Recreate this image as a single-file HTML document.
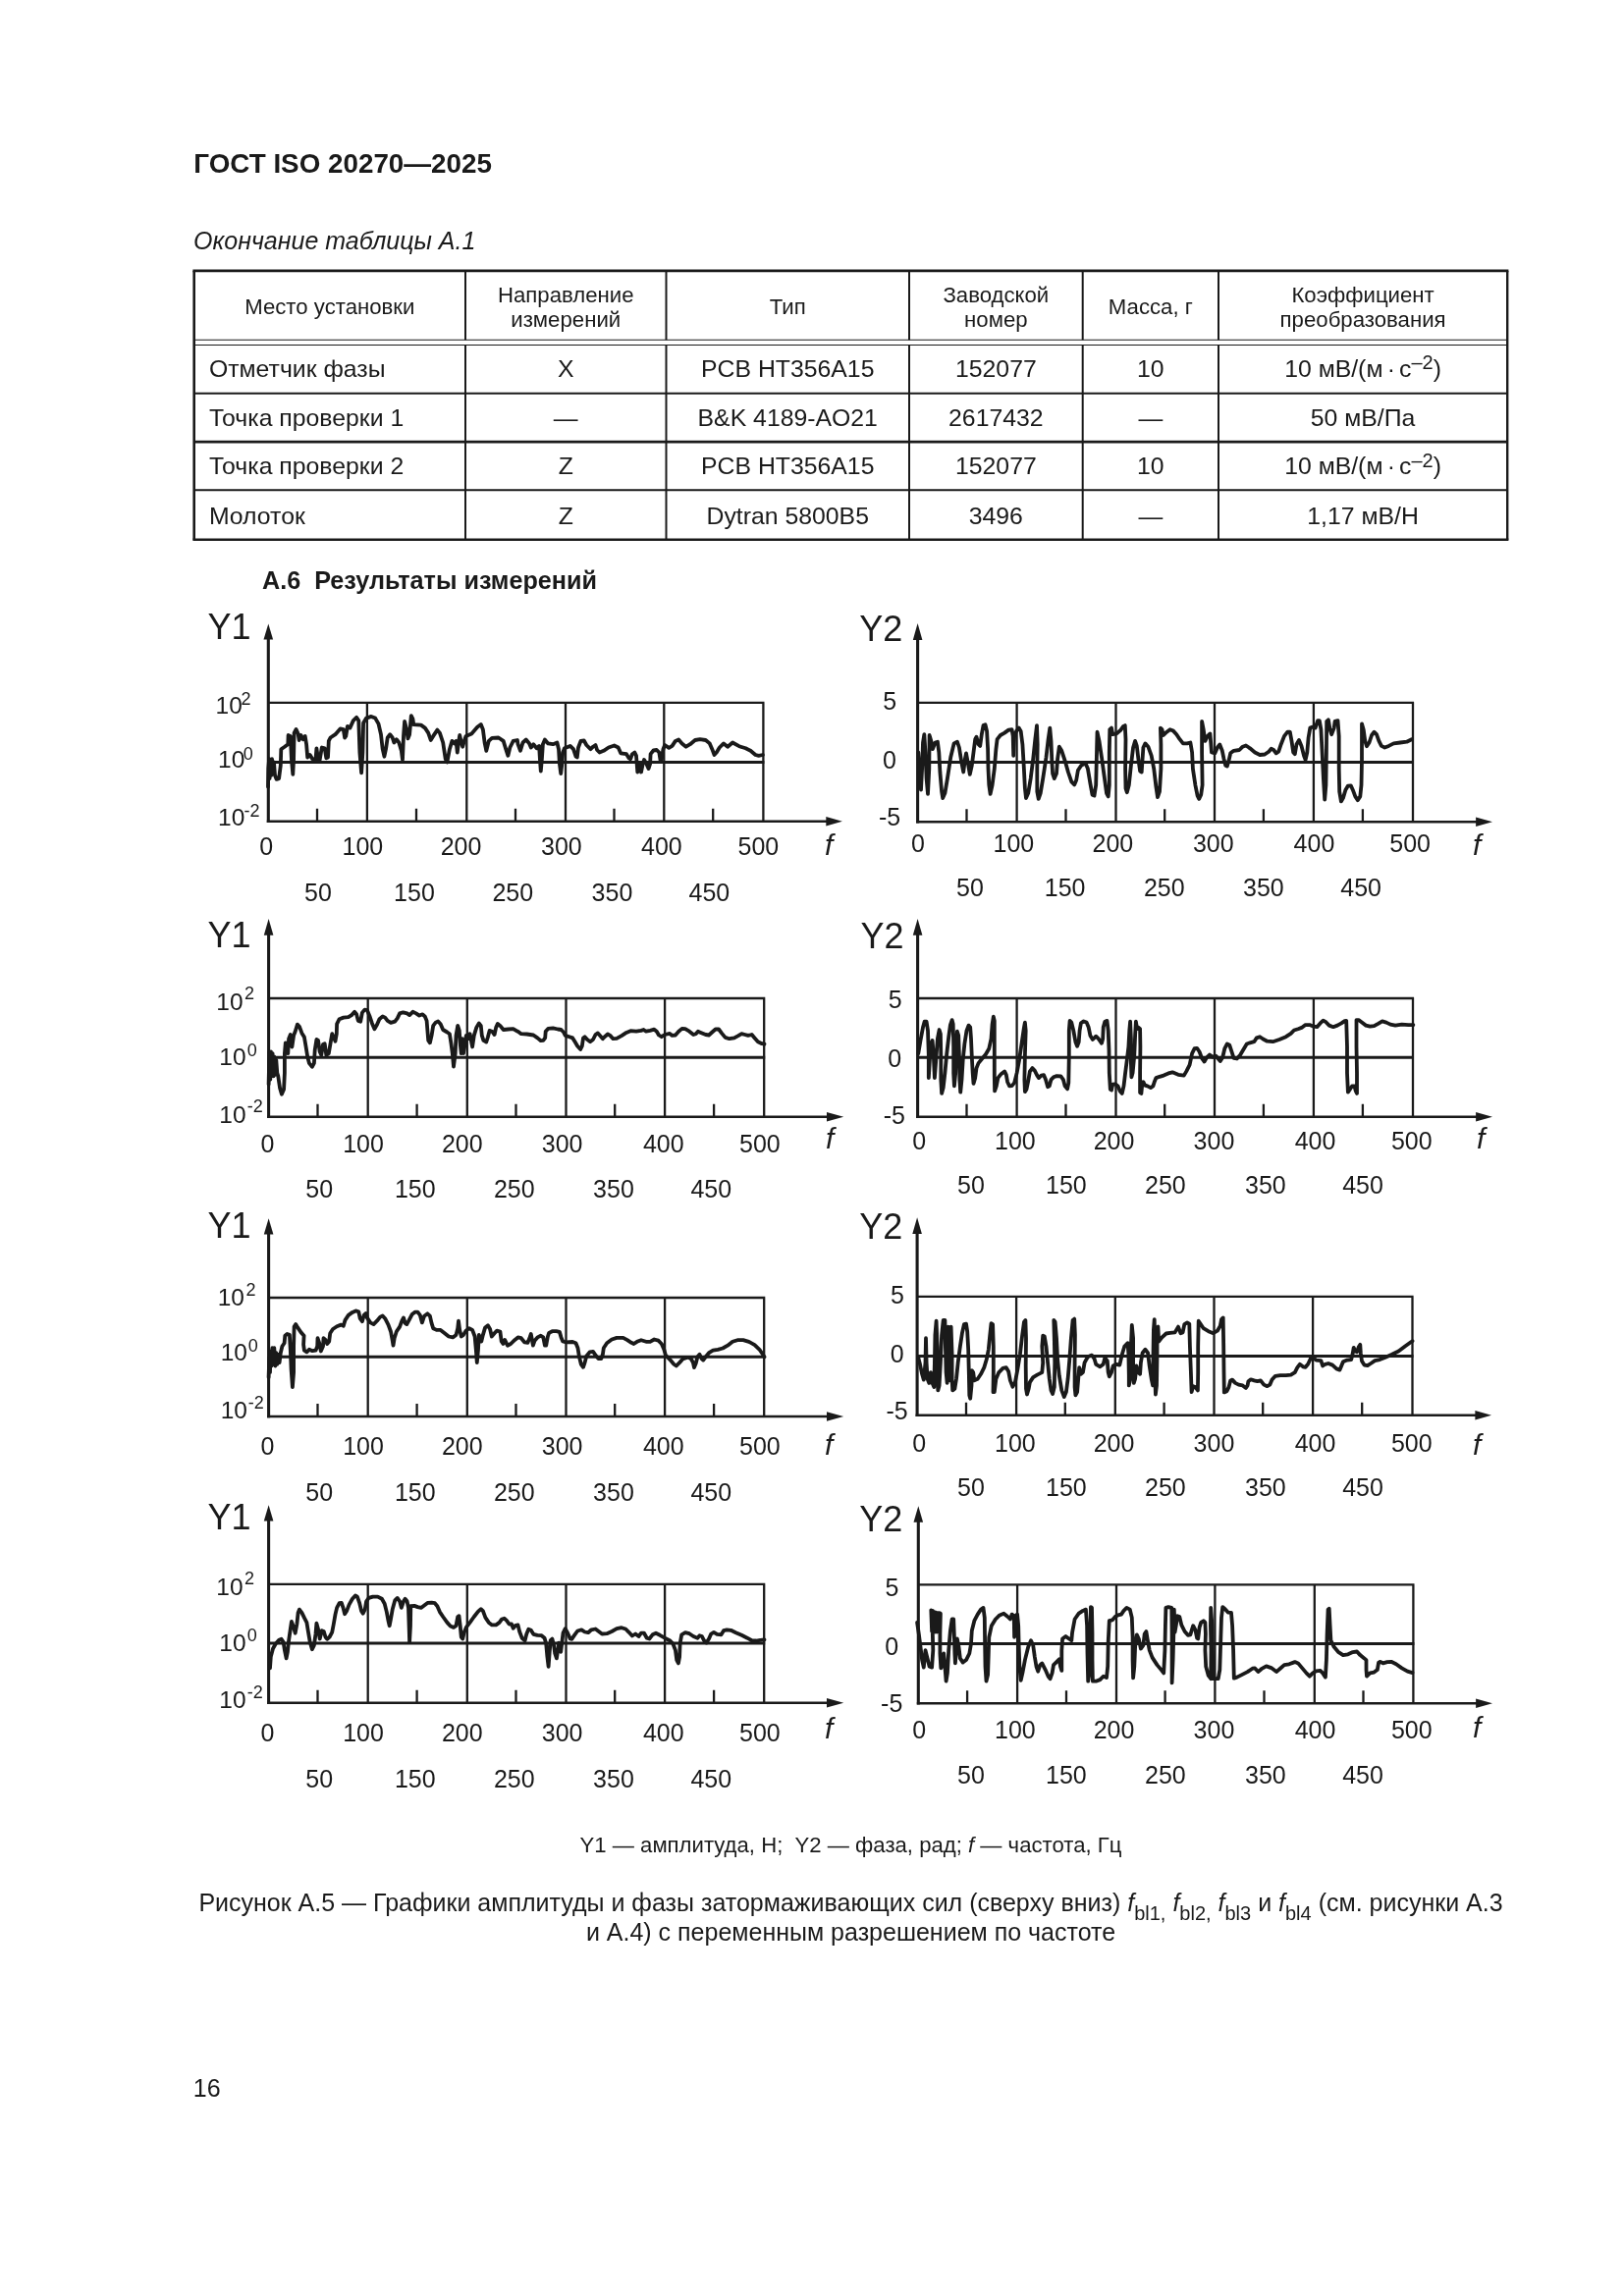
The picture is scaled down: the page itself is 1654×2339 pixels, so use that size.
<!DOCTYPE html>
<html lang="ru">
<head>
<meta charset="utf-8">
<title>ГОСТ ISO 20270—2025</title>
<style>
html,body{margin:0;padding:0;background:#fff;}
body{width:1654px;height:2339px;position:relative;overflow:hidden;font-family:"Liberation Sans",sans-serif;color:#1c1a1a;}
#sheet{position:absolute;left:0;top:0;width:1654px;height:2339px;background:#fff;will-change:transform;filter:grayscale(1);}
.abs{position:absolute;white-space:nowrap;line-height:1;}
#hdr{left:197.3px;top:153.2px;font-size:27.8px;font-weight:bold;}
#cont{left:197px;top:232.7px;font-size:25px;font-style:italic;}
#sec{left:267px;top:579px;font-size:25.2px;font-weight:bold;white-space:pre;}
#legend{left:197px;width:1339px;text-align:center;top:1868.6px;font-size:22.15px;white-space:pre;}
#cap{left:97px;width:1539px;text-align:center;top:1923px;font-size:25px;line-height:30.3px;white-space:nowrap;}
#cap sub{font-size:20px;vertical-align:baseline;position:relative;top:9.3px;font-style:normal;line-height:0;}
#pg{left:196.8px;top:2114.8px;font-size:25px;}
.c{position:absolute;text-align:center;white-space:nowrap;line-height:1;font-size:24.8px;}
.h{font-size:22.2px;line-height:24.5px;}
.l{text-align:left;}
sup{font-size:20px;vertical-align:baseline;position:relative;top:-7.8px;line-height:0;}
.ws{word-spacing:-2.7px;}
</style>
</head>
<body>
<div id="sheet">
<div class="abs" id="hdr">ГОСТ ISO 20270—2025</div>
<div class="abs" id="cont">Окончание таблицы А.1</div>
<svg width="1654" height="300" viewBox="0 270 1654 300" style="position:absolute;left:0;top:270px"><g fill="none" stroke="#1c1a1a"><path d="M196.4 275.9H1536.4M196.4 549.8H1536.4" stroke-width="2.6"/><path d="M197.7 275.9V549.8" stroke-width="2.6"/><path d="M1535.2 275.9V549.8" stroke-width="2.4"/><path d="M474.0 275.9V346.3M474.0 351.5V549.8M678.5 275.9V346.3M678.5 351.5V549.8M926.0 275.9V346.3M926.0 351.5V549.8M1102.7 275.9V346.3M1102.7 351.5V549.8M1241.0 275.9V346.3M1241.0 351.5V549.8" stroke-width="2"/><path d="M197.7 346.3H1535.2M197.7 351.5H1535.2" stroke-width="1.1"/><path d="M197.7 400.8H1535.2M197.7 499.2H1535.2" stroke-width="1.9"/><path d="M197.7 450.1H1535.2" stroke-width="2.8"/></g></svg>
<div class="c h" style="left:197.7px;width:276.3px;top:300.8px">Место установки</div>
<div class="c h" style="left:474.0px;width:204.5px;top:289.0px">Направление<br>измерений</div>
<div class="c h" style="left:678.5px;width:247.5px;top:300.8px">Тип</div>
<div class="c h" style="left:926.0px;width:176.7px;top:289.0px">Заводской<br>номер</div>
<div class="c h" style="left:1102.7px;width:138.3px;top:300.8px">Масса, г</div>
<div class="c h" style="left:1241.0px;width:294.2px;top:289.0px">Коэффициент<br>преобразования</div>
<div class="c l" style="left:212.9px;top:363.5px">Отметчик фазы</div>
<div class="c " style="left:474.0px;width:204.5px;top:363.5px">X</div>
<div class="c " style="left:678.5px;width:247.5px;top:363.5px">PCB HT356A15</div>
<div class="c " style="left:926.0px;width:176.7px;top:363.5px">152077</div>
<div class="c " style="left:1102.7px;width:138.3px;top:363.5px">10</div>
<div class="c " style="left:1241.0px;width:294.2px;top:363.5px">10 мВ/(м<span class="ws"> · </span>с<sup>–2</sup>)</div>
<div class="c l" style="left:212.9px;top:413.5px">Точка проверки 1</div>
<div class="c " style="left:474.0px;width:204.5px;top:413.5px">—</div>
<div class="c " style="left:678.5px;width:247.5px;top:413.5px">B&amp;K 4189-AO21</div>
<div class="c " style="left:926.0px;width:176.7px;top:413.5px">2617432</div>
<div class="c " style="left:1102.7px;width:138.3px;top:413.5px">—</div>
<div class="c " style="left:1241.0px;width:294.2px;top:413.5px">50 мВ/Па</div>
<div class="c l" style="left:212.9px;top:463.4px">Точка проверки 2</div>
<div class="c " style="left:474.0px;width:204.5px;top:463.4px">Z</div>
<div class="c " style="left:678.5px;width:247.5px;top:463.4px">PCB HT356A15</div>
<div class="c " style="left:926.0px;width:176.7px;top:463.4px">152077</div>
<div class="c " style="left:1102.7px;width:138.3px;top:463.4px">10</div>
<div class="c " style="left:1241.0px;width:294.2px;top:463.4px">10 мВ/(м<span class="ws"> · </span>с<sup>–2</sup>)</div>
<div class="c l" style="left:212.9px;top:513.7px">Молоток</div>
<div class="c " style="left:474.0px;width:204.5px;top:513.7px">Z</div>
<div class="c " style="left:678.5px;width:247.5px;top:513.7px">Dytran 5800B5</div>
<div class="c " style="left:926.0px;width:176.7px;top:513.7px">3496</div>
<div class="c " style="left:1102.7px;width:138.3px;top:513.7px">—</div>
<div class="c " style="left:1241.0px;width:294.2px;top:513.7px">1,17 мВ/Н</div>
<div class="abs" id="sec">А.6  Результаты измерений</div>
<svg width="1654" height="1400" viewBox="0 600 1654 1400" style="position:absolute;left:0;top:600px"><g fill="none" stroke="#1c1a1a"><path d="M273.3 715.8H778.5M777.4 715.8V836.7M373.9 715.8V836.7M475.3 715.8V836.7M576.0 715.8V836.7M676.3 715.8V836.7M323.0 823.7V836.7M424.0 823.7V836.7M525.0 823.7V836.7M625.5 823.7V836.7M726.2 823.7V836.7" stroke-width="2.3"/>
<path d="M273.3 776.5H778.4" stroke-width="3"/>
<path d="M273.3 650.4V838.0" stroke-width="3.1"/>
<path d="M271.8 836.7H843.3" stroke-width="2.6"/>
<path d="M273.3 635.4L268.5 651.4L278.1 651.4Z" fill="#1c1a1a" stroke="none"/>
<path d="M857.9 836.7L841.3 831.9L841.3 841.5Z" fill="#1c1a1a" stroke="none"/>
<path d="M273.0 801.4 L273.3 783.1 L274.1 773.2 L274.6 793.1 L275.3 774.8 L276.3 789.8 L277.0 773.2 L278.0 786.5 L279.0 776.5 L280.0 789.8 L281.6 793.9 L284.1 793.1 L285.8 779.8 L286.3 763.2 L289.9 760.7 L293.3 758.2 L293.6 749.0 L295.8 749.9 L296.9 773.2 L298.3 788.9 L299.1 773.2 L299.6 746.6 L301.6 742.9 L303.6 747.4 L304.6 754.0 L306.6 749.0 L308.6 753.2 L310.7 749.9 L312.1 758.2 L313.2 771.5 L315.7 769.0 L318.2 773.2 L321.5 774.0 L322.4 762.3 L324.0 773.2 L325.7 774.0 L327.8 761.5 L330.7 762.3 L332.3 772.3 L334.0 771.5 L334.8 754.9 L336.5 751.5 L341.5 748.2 L346.5 742.4 L349.8 743.2 L351.1 751.5 L352.3 749.9 L353.9 739.9 L356.4 741.6 L359.8 734.1 L363.1 730.8 L365.3 734.1 L366.4 766.5 L368.1 787.3 L369.4 766.5 L370.1 736.6 L373.1 731.6 L378.1 729.9 L382.2 731.6 L385.5 737.4 L388.0 748.2 L389.7 763.2 L391.4 770.7 L393.0 763.2 L394.7 751.5 L397.2 748.2 L399.7 751.5 L401.3 756.5 L403.8 753.2 L406.3 756.5 L408.8 764.8 L410.0 774.0 L411.0 749.9 L412.1 734.9 L413.8 741.6 L415.5 752.4 L417.1 748.2 L418.8 729.1 L420.4 732.4 L421.3 738.2 L428.8 738.6 L432.9 741.6 L436.2 746.6 L438.7 754.0 L441.2 749.9 L445.4 743.6 L447.9 746.6 L451.2 756.5 L453.7 773.2 L455.4 776.5 L457.9 763.2 L460.4 754.9 L462.8 757.4 L464.5 754.9 L465.8 766.5 L467.0 756.5 L468.2 749.0 L469.8 756.5 L471.2 760.7 L472.8 754.9 L474.5 749.9 L480.3 747.4 L486.1 740.7 L489.8 737.9 L491.9 743.2 L493.6 756.5 L495.3 764.8 L497.8 754.9 L501.1 751.9 L507.7 751.5 L512.7 754.9 L515.2 763.2 L517.4 769.8 L519.4 761.5 L522.7 754.9 L526.9 754.0 L527.5 758.2 L530.0 764.8 L532.5 756.5 L535.8 753.5 L539.1 757.4 L540.8 761.5 L543.3 758.2 L546.6 762.3 L549.1 759.9 L549.9 773.2 L550.8 785.6 L551.9 773.2 L552.9 758.2 L554.9 753.5 L558.2 757.4 L563.2 758.2 L567.4 756.5 L569.0 763.2 L569.9 778.1 L571.2 788.1 L572.4 778.1 L573.2 766.5 L574.9 762.3 L580.7 759.9 L584.0 763.2 L586.5 770.7 L587.8 771.5 L589.0 761.5 L591.5 754.9 L594.8 754.5 L597.3 759.0 L601.5 763.2 L604.0 760.7 L606.5 759.0 L608.1 764.0 L610.6 766.5 L614.8 764.8 L619.8 761.5 L625.6 759.5 L629.7 761.5 L632.2 767.3 L638.0 768.2 L640.5 772.3 L642.2 773.2 L643.9 768.2 L646.4 766.5 L648.0 769.8 L649.3 786.5 L651.3 778.1 L653.0 786.5 L654.7 778.1 L656.0 774.0 L658.0 777.3 L660.5 783.1 L662.1 778.1 L662.6 768.2 L665.5 764.5 L668.8 764.0 L671.3 766.5 L672.6 774.8 L673.8 773.2 L675.4 763.2 L677.1 759.0 L681.3 761.8 L684.6 759.9 L687.9 754.9 L691.2 753.5 L694.6 757.4 L698.7 760.7 L702.9 758.2 L707.9 754.0 L712.9 753.2 L718.7 754.0 L722.8 757.4 L725.3 763.2 L727.5 769.0 L729.8 766.5 L732.8 761.5 L737.0 757.4 L741.1 760.7 L746.1 756.5 L752.8 760.2 L759.4 762.3 L764.4 764.8 L769.4 769.0 L772.7 769.8 L776.9 769.0" stroke-width="3.8" stroke-linejoin="round" stroke-linecap="round"/>
<path d="M934.6 715.8H1440.1M1439.0 715.8V837.2M1035.6 715.8V837.2M1136.5 715.8V837.2M1237.0 715.8V837.2M1337.9 715.8V837.2M984.5 824.2V837.2M1085.5 824.2V837.2M1186.2 824.2V837.2M1286.9 824.2V837.2M1387.9 824.2V837.2" stroke-width="2.3"/>
<path d="M934.6 776.5H1440.0" stroke-width="3"/>
<path d="M934.6 650.9V838.5" stroke-width="3.1"/>
<path d="M933.1 837.2H1505.1" stroke-width="2.6"/>
<path d="M934.6 635.0L929.8 651.9L939.4 651.9Z" fill="#1c1a1a" stroke="none"/>
<path d="M1520.0 837.2L1503.1 832.4L1503.1 842.0Z" fill="#1c1a1a" stroke="none"/>
<path d="M935.3 766.5 L936.6 786.5 L938.0 804.7 L939.1 783.1 L940.0 756.5 L941.3 748.2 L942.5 766.5 L943.6 793.1 L945.0 808.9 L946.3 783.1 L946.6 749.0 L948.3 754.9 L949.9 763.2 L952.4 756.5 L954.9 755.7 L956.3 766.5 L957.4 786.5 L959.1 806.4 L960.2 813.1 L962.4 808.1 L964.9 793.1 L968.2 771.5 L971.6 757.4 L974.9 755.7 L976.9 761.5 L979.0 774.8 L981.2 786.5 L982.9 773.2 L984.0 767.3 L985.7 776.5 L987.8 788.9 L989.8 779.8 L991.5 766.5 L993.2 753.2 L994.5 750.7 L996.5 758.2 L998.2 759.9 L999.8 748.2 L1001.5 739.1 L1003.5 738.2 L1005.1 744.9 L1006.1 763.2 L1006.5 783.1 L1007.3 799.8 L1008.6 808.9 L1010.6 799.8 L1012.8 783.1 L1014.4 763.2 L1015.6 753.2 L1018.9 749.0 L1023.1 746.6 L1027.2 743.6 L1030.6 743.2 L1031.7 749.9 L1032.2 769.8 L1033.1 749.9 L1035.1 744.9 L1037.7 741.6 L1039.7 744.9 L1041.4 758.2 L1042.7 779.8 L1043.9 803.1 L1045.0 813.1 L1047.2 808.1 L1049.7 793.1 L1052.2 773.2 L1054.3 753.2 L1056.0 739.1 L1056.7 758.2 L1056.3 783.1 L1056.3 806.4 L1057.7 813.9 L1059.7 808.1 L1062.2 793.1 L1065.5 771.5 L1067.6 753.2 L1069.3 741.6 L1070.5 754.9 L1071.3 774.8 L1072.1 788.1 L1073.8 793.1 L1076.0 788.1 L1077.1 773.2 L1078.8 760.7 L1081.3 764.8 L1084.6 774.8 L1087.9 786.5 L1091.3 796.4 L1094.2 799.4 L1096.2 794.8 L1097.9 784.8 L1101.2 779.8 L1105.4 777.3 L1107.9 783.1 L1110.4 798.1 L1112.5 809.7 L1114.5 810.6 L1116.2 799.8 L1117.0 766.5 L1117.5 745.7 L1119.5 754.9 L1122.0 771.5 L1124.5 789.8 L1127.0 808.1 L1128.7 811.4 L1129.8 799.8 L1129.8 766.5 L1130.3 743.2 L1132.0 741.6 L1133.2 748.2 L1137.0 747.4 L1141.1 744.1 L1144.1 739.9 L1145.8 739.1 L1146.5 753.2 L1146.1 783.1 L1146.5 803.1 L1147.8 807.2 L1149.8 799.8 L1151.9 779.8 L1154.1 761.5 L1156.1 754.9 L1157.8 759.9 L1159.4 773.2 L1161.1 785.6 L1162.7 786.5 L1163.6 773.2 L1164.4 761.5 L1166.4 757.4 L1169.4 760.7 L1172.7 769.8 L1175.2 783.1 L1177.4 801.4 L1179.0 812.2 L1181.0 806.4 L1182.4 783.1 L1182.4 758.2 L1181.9 741.6 L1183.5 743.2 L1184.7 749.0 L1188.3 745.7 L1191.6 743.2 L1195.0 744.6 L1198.3 748.2 L1201.6 753.2 L1204.9 757.4 L1209.1 757.4 L1212.4 756.5 L1214.1 766.5 L1214.9 783.1 L1217.4 799.8 L1219.6 810.6 L1221.2 813.9 L1223.2 809.7 L1224.6 799.8 L1224.1 766.5 L1224.1 734.9 L1225.7 743.2 L1227.4 754.9 L1229.9 749.9 L1232.4 747.4 L1233.2 756.5 L1234.0 766.5 L1237.4 767.3 L1239.9 761.5 L1242.3 758.5 L1244.8 764.8 L1246.5 773.2 L1248.2 779.8 L1249.8 780.6 L1251.5 774.8 L1253.2 767.3 L1256.5 764.8 L1262.3 764.0 L1265.6 760.7 L1268.9 759.5 L1273.1 762.3 L1278.1 766.5 L1283.1 769.0 L1288.1 768.5 L1292.2 765.7 L1294.7 762.8 L1297.2 764.0 L1299.7 767.3 L1302.2 765.7 L1304.7 758.2 L1308.0 749.9 L1311.3 745.7 L1313.8 745.7 L1315.5 754.9 L1317.2 766.5 L1318.8 768.2 L1320.5 758.2 L1323.0 754.0 L1325.5 759.9 L1328.0 769.8 L1329.6 774.0 L1331.3 766.5 L1332.6 751.5 L1334.3 741.6 L1336.3 740.7 L1339.6 741.6 L1342.1 734.1 L1343.8 734.1 L1345.4 743.2 L1346.6 766.5 L1347.9 793.1 L1349.2 814.7 L1350.4 799.8 L1350.9 766.5 L1351.2 734.9 L1352.9 733.3 L1354.6 743.2 L1356.2 748.2 L1358.7 741.6 L1359.6 734.9 L1362.5 734.1 L1363.7 749.9 L1363.7 783.1 L1364.2 806.4 L1365.9 816.4 L1367.9 813.1 L1370.4 804.7 L1372.9 800.6 L1375.8 800.3 L1377.8 804.7 L1380.3 811.4 L1382.8 815.2 L1385.3 811.4 L1386.5 799.8 L1387.0 774.8 L1387.0 749.9 L1387.0 737.4 L1388.7 743.2 L1390.3 754.9 L1392.0 760.2 L1394.5 756.5 L1397.0 749.0 L1399.5 745.7 L1402.0 748.2 L1404.4 754.9 L1406.9 759.9 L1410.3 761.5 L1414.4 759.9 L1419.4 757.4 L1426.1 756.5 L1432.7 755.7 L1437.7 753.2" stroke-width="3.8" stroke-linejoin="round" stroke-linecap="round"/>
<path d="M273.6 1017.0H779.3M778.2 1017.0V1137.7M374.7 1017.0V1137.7M475.8 1017.0V1137.7M576.5 1017.0V1137.7M677.1 1017.0V1137.7M323.5 1124.7V1137.7M424.6 1124.7V1137.7M525.5 1124.7V1137.7M626.2 1124.7V1137.7M727.1 1124.7V1137.7" stroke-width="2.3"/>
<path d="M273.6 1077.3H779.2" stroke-width="3"/>
<path d="M273.6 951.8V1139.0" stroke-width="3.1"/>
<path d="M272.1 1137.7H844.0" stroke-width="2.6"/>
<path d="M273.6 935.9L268.8 952.8L278.4 952.8Z" fill="#1c1a1a" stroke="none"/>
<path d="M859.2 1137.7L842.0 1132.9L842.0 1142.5Z" fill="#1c1a1a" stroke="none"/>
<path d="M273.6 1104.7 L274.1 1083.1 L274.6 1071.5 L275.3 1099.8 L276.0 1071.5 L277.0 1093.1 L277.6 1073.2 L278.6 1096.4 L279.3 1076.5 L280.3 1094.8 L281.3 1079.8 L282.3 1093.1 L283.3 1096.4 L285.0 1108.1 L286.9 1114.7 L289.1 1109.7 L289.9 1093.1 L289.9 1073.2 L290.8 1062.3 L292.4 1066.5 L293.3 1073.2 L294.1 1058.2 L295.8 1054.0 L297.4 1066.5 L299.1 1054.9 L300.7 1050.7 L302.9 1043.6 L304.9 1045.7 L307.4 1052.4 L309.9 1056.5 L311.6 1066.5 L313.2 1076.5 L314.9 1083.1 L317.9 1086.8 L319.9 1083.1 L320.7 1069.8 L322.4 1059.0 L324.0 1059.9 L325.7 1071.5 L327.3 1074.8 L329.0 1064.0 L330.7 1063.2 L332.3 1074.8 L334.8 1073.2 L336.5 1063.2 L338.2 1053.2 L339.8 1056.5 L341.5 1060.7 L342.8 1053.2 L343.1 1043.2 L345.6 1038.2 L349.8 1036.6 L354.8 1036.2 L358.1 1034.1 L361.1 1030.8 L363.1 1033.3 L364.8 1039.9 L367.2 1040.7 L368.9 1031.6 L371.4 1028.6 L373.9 1029.1 L376.4 1034.9 L378.9 1042.4 L381.4 1048.2 L383.9 1044.1 L386.4 1038.2 L389.7 1035.4 L392.2 1036.6 L394.7 1039.9 L398.0 1041.9 L402.2 1040.7 L404.7 1037.4 L407.1 1032.4 L410.5 1031.3 L414.6 1032.4 L417.1 1034.1 L420.4 1030.8 L423.8 1032.4 L427.1 1034.6 L430.4 1033.3 L432.9 1035.7 L434.6 1039.9 L435.4 1049.9 L436.2 1059.9 L437.9 1062.3 L439.6 1054.9 L441.2 1044.9 L443.7 1041.6 L446.2 1040.4 L448.7 1043.2 L451.2 1049.0 L455.4 1051.5 L457.9 1053.2 L459.5 1063.2 L460.8 1073.2 L462.0 1086.5 L463.7 1073.2 L464.5 1054.9 L466.2 1044.9 L467.8 1049.9 L468.7 1063.2 L469.8 1073.2 L470.8 1058.2 L472.0 1073.2 L473.7 1063.2 L474.8 1054.9 L477.0 1058.2 L478.6 1053.2 L479.8 1059.9 L481.1 1066.5 L482.8 1054.9 L485.3 1046.6 L487.8 1042.4 L489.8 1044.9 L490.8 1054.9 L492.4 1059.9 L495.3 1061.5 L496.9 1056.5 L498.6 1049.9 L501.1 1050.7 L503.6 1054.0 L505.2 1046.6 L506.9 1042.9 L509.4 1044.9 L512.7 1049.0 L517.7 1048.5 L522.7 1048.2 L526.9 1050.7 L527.5 1050.7 L530.8 1053.2 L536.6 1053.5 L543.3 1054.5 L547.4 1057.4 L550.8 1060.2 L553.3 1059.9 L555.2 1057.4 L555.7 1050.7 L558.2 1047.9 L563.2 1047.4 L568.2 1048.5 L571.5 1049.0 L574.0 1051.5 L575.7 1054.9 L579.9 1056.2 L583.2 1057.4 L585.7 1061.5 L588.2 1065.7 L591.2 1069.0 L592.8 1065.7 L594.0 1057.4 L595.6 1056.2 L598.1 1059.0 L601.1 1061.2 L604.0 1059.0 L606.5 1054.0 L608.9 1052.4 L611.1 1054.9 L613.9 1058.2 L616.4 1055.7 L618.9 1053.5 L621.4 1054.9 L624.4 1058.2 L628.1 1057.9 L633.1 1055.2 L638.0 1051.9 L642.2 1050.2 L648.0 1050.7 L653.0 1049.9 L655.5 1049.0 L658.0 1050.7 L662.1 1049.9 L666.3 1048.7 L668.8 1050.7 L671.0 1054.5 L673.8 1056.2 L677.1 1054.0 L682.1 1052.9 L684.6 1054.9 L687.9 1054.5 L691.2 1050.7 L694.6 1047.9 L697.9 1048.2 L702.1 1050.7 L706.2 1054.0 L708.7 1053.2 L710.9 1050.7 L713.7 1051.9 L718.7 1054.0 L722.0 1054.5 L725.3 1051.5 L728.7 1048.5 L732.0 1048.5 L735.3 1052.9 L738.6 1056.9 L742.8 1058.2 L747.8 1057.4 L751.9 1055.2 L755.3 1053.2 L758.6 1054.0 L761.9 1054.9 L765.7 1054.0 L768.6 1057.4 L771.9 1061.2 L776.0 1063.2 L778.5 1063.7" stroke-width="3.8" stroke-linejoin="round" stroke-linecap="round"/>
<path d="M934.6 1017.0H1440.1M1439.0 1017.0V1137.7M1035.6 1017.0V1137.7M1136.5 1017.0V1137.7M1237.0 1017.0V1137.7M1337.9 1017.0V1137.7M984.5 1124.7V1137.7M1085.5 1124.7V1137.7M1186.2 1124.7V1137.7M1286.9 1124.7V1137.7M1387.9 1124.7V1137.7" stroke-width="2.3"/>
<path d="M934.6 1077.3H1440.0" stroke-width="3"/>
<path d="M934.6 951.8V1139.0" stroke-width="3.1"/>
<path d="M933.1 1137.7H1505.1" stroke-width="2.6"/>
<path d="M934.6 935.9L929.8 952.8L939.4 952.8Z" fill="#1c1a1a" stroke="none"/>
<path d="M1520.0 1137.7L1503.1 1132.9L1503.1 1142.5Z" fill="#1c1a1a" stroke="none"/>
<path d="M935.3 1073.2 L937.5 1059.9 L940.0 1046.6 L941.6 1040.7 L943.6 1040.7 L945.0 1049.9 L945.8 1074.8 L945.8 1098.1 L946.9 1079.8 L948.3 1063.2 L949.6 1059.9 L950.8 1074.8 L951.9 1098.1 L953.3 1079.8 L954.9 1058.2 L956.6 1049.0 L957.9 1053.2 L958.3 1074.8 L958.3 1099.8 L959.1 1113.9 L960.7 1108.1 L962.4 1093.1 L964.1 1074.8 L966.2 1056.5 L967.9 1044.1 L969.6 1039.1 L970.7 1043.2 L971.2 1066.5 L971.2 1093.1 L971.9 1106.4 L973.2 1093.1 L974.0 1066.5 L974.9 1050.7 L976.2 1054.9 L976.9 1074.8 L977.4 1099.8 L978.2 1112.7 L979.5 1099.8 L980.7 1079.8 L982.4 1063.2 L984.5 1049.9 L986.5 1044.6 L988.2 1046.6 L989.0 1058.2 L989.8 1076.5 L990.7 1093.1 L991.5 1103.9 L993.2 1098.1 L994.5 1088.1 L996.5 1083.1 L999.8 1079.0 L1004.0 1074.0 L1007.3 1068.2 L1009.5 1058.2 L1010.6 1043.2 L1011.8 1035.7 L1012.8 1039.9 L1012.8 1066.5 L1012.8 1096.4 L1013.1 1111.4 L1014.8 1106.4 L1016.4 1098.1 L1019.8 1093.9 L1023.1 1091.4 L1024.8 1094.8 L1026.1 1102.2 L1028.1 1106.4 L1030.6 1106.1 L1033.1 1103.1 L1035.6 1093.1 L1038.1 1079.8 L1040.5 1063.2 L1042.7 1048.2 L1043.9 1041.6 L1044.7 1049.9 L1043.9 1074.8 L1043.4 1099.8 L1043.9 1112.2 L1045.5 1109.7 L1047.2 1101.4 L1048.9 1091.4 L1051.4 1088.1 L1053.8 1090.6 L1056.3 1095.6 L1058.0 1098.1 L1060.5 1095.6 L1063.0 1095.1 L1065.0 1099.8 L1067.1 1107.2 L1068.8 1106.4 L1070.5 1099.8 L1073.0 1097.3 L1076.3 1096.1 L1080.4 1096.4 L1082.9 1099.8 L1084.6 1106.4 L1087.1 1109.4 L1088.3 1103.1 L1088.8 1074.8 L1088.8 1049.9 L1089.6 1039.9 L1091.3 1041.6 L1093.3 1049.9 L1095.4 1061.5 L1097.1 1065.7 L1098.7 1061.5 L1099.6 1049.9 L1100.9 1042.4 L1103.7 1040.4 L1106.6 1041.6 L1108.7 1046.6 L1110.4 1054.9 L1112.9 1059.0 L1116.2 1055.7 L1118.7 1058.2 L1122.0 1062.8 L1123.2 1058.2 L1123.7 1046.6 L1125.3 1040.7 L1127.5 1039.9 L1128.7 1049.9 L1129.5 1069.8 L1129.8 1093.1 L1130.8 1109.7 L1132.0 1110.6 L1133.2 1104.7 L1136.1 1104.4 L1138.6 1106.4 L1140.8 1111.7 L1142.8 1113.9 L1144.5 1106.4 L1146.1 1093.1 L1147.8 1079.8 L1149.4 1066.5 L1150.3 1049.9 L1151.1 1040.7 L1151.9 1058.2 L1151.9 1083.1 L1152.4 1097.3 L1153.6 1093.1 L1155.3 1074.8 L1156.1 1054.9 L1156.9 1040.7 L1158.1 1048.2 L1159.4 1046.6 L1161.1 1048.2 L1161.4 1066.5 L1161.1 1093.1 L1161.1 1113.1 L1162.4 1113.9 L1163.1 1106.4 L1164.4 1102.2 L1166.1 1105.6 L1168.6 1106.4 L1171.9 1108.1 L1174.4 1106.4 L1176.0 1101.4 L1177.4 1098.1 L1181.0 1096.8 L1185.2 1095.6 L1190.0 1093.4 L1194.1 1092.3 L1200.0 1094.8 L1205.8 1095.6 L1208.3 1091.4 L1211.6 1084.8 L1214.1 1073.2 L1216.6 1068.2 L1219.1 1067.8 L1221.6 1071.5 L1224.1 1078.1 L1226.6 1081.5 L1229.0 1077.3 L1231.9 1074.5 L1234.9 1076.8 L1238.2 1075.6 L1240.7 1078.5 L1242.8 1081.1 L1245.2 1077.3 L1247.3 1068.2 L1249.8 1063.5 L1252.3 1064.8 L1254.5 1071.5 L1256.5 1077.8 L1259.8 1078.5 L1263.1 1074.8 L1266.5 1069.0 L1269.8 1063.5 L1273.1 1062.3 L1277.3 1061.2 L1279.8 1057.4 L1283.1 1056.2 L1286.4 1058.5 L1290.6 1060.7 L1296.4 1061.2 L1303.0 1059.0 L1309.7 1056.2 L1314.7 1052.9 L1318.0 1049.5 L1322.1 1048.2 L1326.3 1046.6 L1329.6 1044.1 L1333.8 1044.1 L1337.9 1045.7 L1341.3 1046.2 L1344.6 1042.4 L1347.6 1039.6 L1350.4 1041.2 L1353.7 1044.6 L1357.9 1046.2 L1362.1 1044.6 L1366.2 1042.4 L1369.5 1040.2 L1371.2 1039.9 L1372.0 1066.5 L1372.0 1093.1 L1372.9 1112.7 L1374.9 1109.7 L1377.0 1106.4 L1379.5 1106.4 L1380.8 1111.4 L1382.0 1113.9 L1382.0 1093.1 L1381.5 1066.5 L1381.5 1039.1 L1383.7 1039.1 L1387.0 1041.6 L1391.1 1044.6 L1395.3 1045.7 L1399.5 1045.2 L1403.6 1042.9 L1407.8 1040.4 L1411.9 1041.6 L1416.1 1043.6 L1421.1 1044.6 L1427.7 1043.6 L1434.4 1044.1 L1439.4 1044.1" stroke-width="3.8" stroke-linejoin="round" stroke-linecap="round"/>
<path d="M273.6 1322.0H779.3M778.2 1322.0V1443.0M374.7 1322.0V1443.0M475.8 1322.0V1443.0M576.5 1322.0V1443.0M677.1 1322.0V1443.0M323.5 1430.0V1443.0M424.6 1430.0V1443.0M525.5 1430.0V1443.0M626.2 1430.0V1443.0M727.1 1430.0V1443.0" stroke-width="2.3"/>
<path d="M273.6 1382.3H779.2" stroke-width="3"/>
<path d="M273.6 1256.4V1444.3" stroke-width="3.1"/>
<path d="M272.1 1443.0H844.0" stroke-width="2.6"/>
<path d="M273.6 1241.3L268.8 1257.4L278.4 1257.4Z" fill="#1c1a1a" stroke="none"/>
<path d="M859.2 1443.0L842.0 1438.2L842.0 1447.8Z" fill="#1c1a1a" stroke="none"/>
<path d="M273.6 1403.1 L274.3 1383.1 L275.0 1398.1 L275.6 1376.5 L276.6 1391.5 L277.3 1373.2 L278.3 1389.8 L279.3 1373.2 L280.3 1391.5 L281.3 1378.2 L282.3 1389.8 L283.3 1379.8 L284.6 1388.1 L285.8 1378.2 L287.4 1371.5 L289.6 1368.2 L290.3 1360.7 L292.4 1359.0 L294.9 1359.9 L295.8 1374.8 L296.6 1394.8 L297.9 1413.1 L299.1 1398.1 L299.1 1371.5 L299.6 1351.6 L301.2 1349.1 L303.2 1352.4 L306.6 1357.4 L309.6 1360.7 L309.1 1369.8 L309.9 1375.7 L312.4 1377.3 L314.9 1374.8 L318.2 1376.2 L321.5 1375.7 L323.2 1371.5 L323.5 1363.2 L325.2 1368.2 L326.8 1376.5 L329.0 1371.5 L329.5 1363.2 L331.5 1364.9 L333.2 1369.0 L335.2 1366.5 L336.2 1358.2 L339.0 1354.0 L343.1 1351.2 L347.3 1349.6 L349.8 1350.7 L351.5 1344.9 L354.8 1339.9 L358.9 1336.9 L362.3 1335.4 L365.3 1336.3 L366.7 1343.2 L368.9 1346.2 L370.6 1339.9 L372.7 1337.9 L373.9 1342.4 L377.2 1347.4 L380.5 1349.1 L383.9 1345.7 L387.2 1341.6 L389.7 1340.4 L392.2 1343.2 L395.5 1349.6 L398.0 1356.5 L399.7 1365.7 L400.5 1370.7 L401.7 1363.2 L403.8 1356.5 L407.1 1351.6 L409.3 1345.7 L411.0 1342.4 L412.6 1347.9 L414.3 1349.1 L416.6 1344.9 L419.6 1339.1 L422.9 1336.6 L425.4 1336.6 L427.9 1339.9 L429.9 1347.4 L432.1 1340.7 L435.4 1338.3 L437.9 1340.7 L439.6 1348.2 L441.2 1353.2 L444.6 1354.9 L448.7 1354.9 L452.9 1358.2 L457.0 1361.5 L461.2 1362.4 L464.5 1359.9 L466.2 1353.2 L467.0 1345.7 L468.2 1354.9 L469.8 1361.5 L472.0 1359.9 L474.5 1355.7 L477.8 1353.2 L481.1 1354.9 L483.6 1361.5 L484.8 1374.8 L485.8 1388.1 L487.0 1374.8 L487.8 1359.9 L490.3 1366.5 L491.9 1359.9 L494.1 1352.4 L496.9 1350.2 L499.1 1354.0 L500.8 1361.5 L503.6 1358.2 L506.1 1355.7 L509.4 1356.5 L510.7 1366.5 L512.4 1369.0 L514.1 1364.9 L516.9 1370.7 L520.2 1369.0 L524.4 1364.9 L527.5 1362.4 L530.8 1363.2 L534.1 1367.3 L537.5 1367.8 L539.6 1362.4 L540.8 1359.0 L541.9 1364.9 L542.9 1370.7 L544.6 1365.7 L547.4 1362.4 L550.8 1360.7 L553.3 1362.4 L554.9 1370.7 L556.2 1370.7 L557.9 1361.5 L559.1 1357.9 L562.4 1356.2 L566.6 1356.2 L569.9 1356.9 L571.5 1362.4 L573.2 1366.5 L576.5 1367.3 L583.2 1367.0 L586.5 1368.2 L588.5 1373.2 L589.8 1381.5 L591.8 1389.8 L594.0 1392.8 L595.6 1388.1 L597.3 1381.5 L600.6 1377.3 L604.0 1376.8 L606.5 1380.6 L609.4 1384.0 L612.3 1384.0 L613.9 1379.8 L614.8 1373.2 L618.1 1368.2 L623.1 1364.5 L628.1 1362.9 L634.7 1362.9 L638.9 1365.2 L643.0 1367.8 L645.5 1369.0 L648.8 1366.8 L653.0 1365.2 L658.0 1366.8 L662.1 1366.8 L666.3 1364.5 L670.5 1365.7 L673.8 1369.0 L676.3 1374.8 L677.9 1380.6 L682.1 1384.8 L686.3 1389.8 L688.8 1391.5 L692.1 1388.1 L695.4 1384.5 L700.4 1382.8 L703.7 1384.0 L705.9 1388.1 L707.0 1393.1 L708.7 1389.0 L710.4 1382.3 L712.5 1379.8 L714.5 1384.0 L716.2 1385.6 L718.7 1382.3 L722.0 1378.2 L726.2 1375.7 L731.1 1374.8 L736.1 1373.5 L741.1 1370.7 L746.1 1366.8 L751.1 1365.2 L756.9 1365.2 L762.7 1366.8 L768.6 1370.2 L773.5 1374.8 L776.9 1379.8 L778.5 1382.3" stroke-width="3.8" stroke-linejoin="round" stroke-linecap="round"/>
<path d="M934.1 1320.8H1439.6M1438.5 1320.8V1441.7M1035.1 1320.8V1441.7M1135.8 1320.8V1441.7M1236.5 1320.8V1441.7M1337.1 1320.8V1441.7M984.0 1428.7V1441.7M1084.8 1428.7V1441.7M1185.6 1428.7V1441.7M1286.2 1428.7V1441.7M1387.2 1428.7V1441.7" stroke-width="2.3"/>
<path d="M934.1 1381.5H1439.5" stroke-width="3"/>
<path d="M934.1 1256.1V1443.0" stroke-width="3.1"/>
<path d="M932.6 1441.7H1504.4" stroke-width="2.6"/>
<path d="M934.1 1240.2L929.3 1257.1L938.9 1257.1Z" fill="#1c1a1a" stroke="none"/>
<path d="M1519.0 1441.7L1502.4 1436.9L1502.4 1446.5Z" fill="#1c1a1a" stroke="none"/>
<path d="M935.3 1383.1 L937.0 1389.8 L939.1 1399.8 L940.8 1405.6 L942.5 1388.1 L943.0 1363.2 L943.6 1388.1 L944.6 1404.8 L946.3 1408.9 L947.9 1398.1 L949.1 1408.1 L951.3 1413.1 L951.9 1388.1 L952.4 1359.9 L953.6 1345.7 L954.6 1371.5 L954.6 1398.1 L955.3 1416.4 L956.6 1411.4 L957.9 1388.1 L959.1 1359.9 L960.7 1344.9 L962.4 1344.9 L962.9 1371.5 L963.6 1398.1 L964.6 1408.9 L965.2 1379.8 L965.7 1351.6 L966.6 1371.5 L966.6 1398.1 L967.4 1406.4 L968.2 1371.5 L968.6 1351.6 L969.6 1379.8 L969.6 1404.8 L970.2 1416.4 L972.4 1414.7 L974.0 1404.8 L975.7 1388.1 L977.9 1371.5 L979.9 1358.2 L981.9 1349.1 L984.0 1348.6 L985.2 1356.5 L986.2 1374.8 L986.8 1398.1 L987.3 1421.4 L988.2 1424.7 L989.5 1411.4 L989.8 1396.1 L991.2 1398.1 L992.3 1406.4 L995.7 1404.8 L999.0 1399.8 L1002.3 1393.1 L1004.8 1384.8 L1006.8 1374.8 L1008.1 1361.5 L1009.5 1348.2 L1011.1 1349.1 L1011.8 1371.5 L1011.8 1398.1 L1011.5 1418.1 L1012.8 1418.1 L1014.4 1404.8 L1017.3 1398.1 L1021.4 1393.9 L1024.8 1393.1 L1027.2 1397.3 L1028.9 1406.4 L1031.4 1412.7 L1033.9 1408.1 L1036.4 1394.8 L1038.9 1379.8 L1041.0 1361.5 L1043.0 1346.6 L1044.4 1344.9 L1045.0 1363.2 L1044.7 1391.5 L1045.0 1414.7 L1046.0 1420.5 L1047.7 1414.7 L1048.9 1408.1 L1052.2 1403.1 L1056.3 1400.6 L1061.3 1398.1 L1062.2 1388.1 L1061.3 1371.5 L1062.2 1360.7 L1063.8 1361.5 L1065.5 1371.5 L1067.1 1388.1 L1068.8 1404.8 L1070.5 1416.4 L1072.1 1420.0 L1073.8 1413.1 L1074.3 1388.1 L1073.8 1363.2 L1073.3 1344.9 L1074.6 1346.6 L1076.0 1363.2 L1077.1 1384.8 L1078.8 1401.4 L1081.3 1416.4 L1083.8 1423.0 L1085.9 1418.1 L1087.6 1404.8 L1089.3 1384.8 L1090.9 1363.2 L1092.6 1344.9 L1094.2 1343.6 L1094.9 1359.9 L1094.6 1388.1 L1094.6 1413.1 L1095.4 1421.4 L1097.1 1418.1 L1098.2 1404.8 L1099.2 1393.1 L1100.9 1399.8 L1102.9 1398.1 L1104.6 1388.1 L1107.9 1382.3 L1112.0 1380.6 L1114.5 1384.0 L1116.2 1389.8 L1120.4 1392.3 L1123.7 1389.8 L1125.3 1383.1 L1127.8 1386.5 L1128.7 1398.1 L1129.8 1402.3 L1132.0 1398.1 L1133.7 1391.5 L1137.0 1389.8 L1140.3 1390.6 L1142.8 1379.8 L1145.3 1371.5 L1148.6 1368.2 L1149.4 1379.8 L1149.8 1401.4 L1149.8 1411.4 L1151.1 1404.8 L1151.9 1371.5 L1152.8 1349.9 L1154.1 1363.2 L1154.1 1388.1 L1154.8 1408.9 L1156.1 1404.8 L1157.4 1391.5 L1159.1 1398.1 L1161.1 1399.8 L1161.9 1388.1 L1163.6 1378.2 L1166.4 1374.8 L1169.1 1378.2 L1170.7 1391.5 L1172.7 1404.8 L1174.1 1411.4 L1174.4 1388.1 L1174.9 1354.9 L1175.7 1344.1 L1176.4 1371.5 L1176.4 1404.8 L1176.9 1420.5 L1178.0 1411.4 L1178.5 1379.8 L1178.5 1352.4 L1179.4 1351.6 L1180.2 1366.5 L1183.5 1362.4 L1187.7 1358.5 L1191.6 1357.9 L1196.6 1357.4 L1200.0 1351.6 L1202.4 1358.2 L1204.6 1357.4 L1206.3 1349.1 L1209.1 1347.4 L1211.3 1348.6 L1211.9 1371.5 L1212.9 1398.1 L1213.6 1418.1 L1215.2 1412.2 L1217.4 1413.1 L1219.9 1416.4 L1220.2 1398.1 L1220.2 1371.5 L1220.7 1345.7 L1222.4 1348.2 L1225.7 1353.2 L1230.7 1356.2 L1235.7 1358.2 L1239.9 1355.7 L1242.8 1350.7 L1244.0 1344.1 L1245.7 1342.4 L1246.2 1371.5 L1246.5 1398.1 L1246.8 1418.4 L1249.5 1417.2 L1251.5 1413.1 L1253.2 1406.4 L1255.1 1405.6 L1258.1 1408.9 L1261.5 1410.6 L1265.6 1411.4 L1268.9 1413.9 L1270.6 1411.4 L1271.4 1407.2 L1273.9 1405.3 L1277.3 1406.4 L1280.6 1407.2 L1283.9 1406.4 L1287.2 1410.6 L1290.6 1412.2 L1293.4 1410.6 L1295.5 1405.6 L1298.9 1401.8 L1303.9 1401.1 L1309.7 1401.1 L1314.7 1400.6 L1318.8 1398.1 L1321.3 1393.1 L1323.8 1389.8 L1327.1 1392.3 L1329.6 1392.8 L1332.1 1389.8 L1334.6 1384.5 L1337.1 1383.1 L1340.4 1385.6 L1345.4 1386.1 L1347.1 1391.5 L1349.6 1389.8 L1352.9 1389.0 L1357.1 1390.6 L1361.2 1394.4 L1364.5 1395.6 L1366.2 1391.5 L1367.9 1387.3 L1372.0 1385.6 L1376.2 1385.1 L1377.8 1378.2 L1378.7 1372.8 L1380.3 1376.5 L1382.0 1377.3 L1383.7 1372.3 L1385.3 1369.8 L1385.8 1378.2 L1387.0 1386.5 L1389.5 1390.6 L1392.8 1391.1 L1396.1 1389.0 L1400.3 1386.1 L1405.3 1385.1 L1411.1 1382.8 L1417.7 1379.8 L1424.4 1376.5 L1431.0 1371.5 L1436.9 1367.3 L1438.5 1366.2" stroke-width="3.8" stroke-linejoin="round" stroke-linecap="round"/>
<path d="M273.6 1613.8H779.3M778.2 1613.8V1734.7M374.7 1613.8V1734.7M475.8 1613.8V1734.7M576.5 1613.8V1734.7M677.1 1613.8V1734.7M323.5 1721.7V1734.7M424.6 1721.7V1734.7M525.5 1721.7V1734.7M626.2 1721.7V1734.7M727.1 1721.7V1734.7" stroke-width="2.3"/>
<path d="M273.6 1674.1H779.2" stroke-width="3"/>
<path d="M273.6 1548.4V1736.0" stroke-width="3.1"/>
<path d="M272.1 1734.7H844.0" stroke-width="2.6"/>
<path d="M273.6 1533.3L268.8 1549.4L278.4 1549.4Z" fill="#1c1a1a" stroke="none"/>
<path d="M859.2 1734.7L842.0 1729.9L842.0 1739.5Z" fill="#1c1a1a" stroke="none"/>
<path d="M275.0 1699.4 L275.8 1687.8 L278.0 1679.5 L280.8 1674.5 L284.1 1670.8 L286.6 1669.8 L288.6 1672.8 L289.9 1681.1 L291.6 1689.4 L292.9 1682.8 L294.1 1671.2 L295.8 1659.5 L296.9 1652.0 L298.6 1656.2 L300.7 1663.7 L302.4 1654.5 L303.6 1642.9 L304.9 1639.6 L307.4 1642.9 L310.2 1648.7 L312.4 1652.9 L314.0 1662.8 L315.7 1672.8 L317.9 1680.3 L319.9 1676.1 L321.5 1664.5 L322.4 1653.7 L324.0 1659.5 L325.7 1669.5 L327.8 1661.2 L329.8 1662.0 L331.5 1667.8 L333.2 1669.8 L335.7 1667.5 L338.2 1662.8 L339.8 1654.5 L341.5 1644.6 L343.1 1637.9 L345.6 1633.2 L347.8 1632.9 L349.5 1637.9 L351.1 1644.2 L353.1 1641.2 L355.6 1634.6 L358.9 1628.8 L361.9 1625.4 L363.9 1626.6 L366.1 1632.9 L368.1 1641.2 L369.7 1643.7 L371.7 1639.6 L373.1 1631.3 L375.6 1627.9 L379.7 1626.6 L384.7 1626.6 L388.9 1628.8 L391.7 1633.7 L393.8 1642.1 L395.5 1651.2 L396.7 1656.2 L398.0 1649.5 L399.7 1639.6 L402.2 1630.4 L404.7 1627.9 L407.1 1631.3 L408.8 1637.9 L411.0 1631.3 L412.6 1628.8 L414.6 1631.3 L416.0 1637.9 L416.6 1656.2 L417.1 1672.8 L418.0 1656.2 L418.3 1636.2 L422.1 1635.9 L425.4 1637.1 L428.8 1637.9 L432.1 1635.4 L435.4 1632.9 L439.6 1632.6 L442.9 1633.2 L445.4 1636.2 L447.9 1642.1 L451.2 1647.0 L455.4 1652.9 L458.7 1656.5 L462.0 1657.9 L464.5 1656.2 L466.2 1647.0 L467.5 1646.2 L468.7 1656.2 L469.8 1667.8 L471.2 1669.5 L472.8 1662.8 L474.8 1657.9 L478.6 1652.9 L482.8 1647.0 L487.0 1641.6 L489.8 1639.2 L491.9 1641.2 L494.4 1647.9 L497.8 1652.9 L501.1 1655.4 L505.2 1655.4 L508.6 1652.9 L511.1 1649.5 L513.6 1648.7 L516.0 1650.9 L518.5 1654.5 L521.0 1654.5 L522.7 1658.7 L524.7 1656.2 L527.5 1655.4 L529.1 1662.0 L531.6 1668.7 L534.6 1671.2 L536.3 1664.5 L538.3 1659.8 L540.8 1660.8 L543.3 1664.8 L547.4 1665.8 L551.6 1666.2 L554.6 1668.7 L556.2 1674.5 L557.4 1687.8 L558.6 1697.8 L559.6 1684.5 L560.7 1671.2 L562.4 1669.5 L564.1 1676.1 L565.2 1684.5 L566.9 1689.4 L568.2 1681.1 L569.0 1673.6 L571.2 1682.8 L572.4 1672.8 L573.5 1663.7 L575.7 1659.2 L578.2 1663.7 L580.7 1669.5 L582.3 1669.8 L584.8 1666.2 L588.2 1661.5 L592.3 1660.3 L595.6 1662.5 L599.0 1663.2 L602.3 1660.3 L606.5 1659.5 L609.8 1662.0 L613.1 1664.5 L618.1 1664.2 L623.1 1662.0 L628.1 1659.2 L633.1 1658.2 L637.2 1659.5 L640.5 1662.8 L643.9 1666.5 L647.2 1664.5 L650.5 1667.0 L653.0 1663.7 L656.0 1663.7 L658.8 1668.7 L661.3 1669.5 L664.6 1665.3 L668.0 1663.7 L672.1 1665.8 L677.1 1668.7 L682.1 1671.2 L685.4 1674.5 L687.9 1681.1 L689.2 1691.1 L690.9 1694.4 L692.1 1687.8 L692.6 1674.5 L694.2 1665.3 L697.9 1663.2 L702.1 1664.2 L706.2 1667.0 L710.4 1668.7 L712.5 1666.2 L714.9 1667.0 L717.0 1671.2 L719.5 1673.6 L722.0 1669.5 L724.2 1664.5 L727.0 1662.8 L730.3 1664.8 L734.5 1665.3 L737.0 1661.2 L740.3 1660.3 L744.4 1660.8 L749.4 1663.2 L755.3 1665.8 L761.1 1668.7 L766.1 1671.5 L770.2 1671.5 L774.4 1670.8 L778.5 1670.3" stroke-width="3.8" stroke-linejoin="round" stroke-linecap="round"/>
<path d="M935.3 1614.3H1440.5M1439.4 1614.3V1735.2M1036.1 1614.3V1735.2M1137.0 1614.3V1735.2M1237.4 1614.3V1735.2M1338.8 1614.3V1735.2M985.1 1722.2V1735.2M1086.0 1722.2V1735.2M1186.6 1722.2V1735.2M1287.5 1722.2V1735.2M1388.5 1722.2V1735.2" stroke-width="2.3"/>
<path d="M935.3 1674.5H1440.4" stroke-width="3"/>
<path d="M935.3 1549.7V1736.5" stroke-width="3.1"/>
<path d="M933.8 1735.2H1505.1" stroke-width="2.6"/>
<path d="M935.3 1534.2L930.5 1550.7L940.1 1550.7Z" fill="#1c1a1a" stroke="none"/>
<path d="M1520.0 1735.2L1503.1 1730.4L1503.1 1740.0Z" fill="#1c1a1a" stroke="none"/>
<path d="M934.1 1652.9 L935.8 1664.5 L937.5 1677.8 L939.1 1691.1 L940.8 1698.6 L942.5 1681.1 L944.1 1687.8 L946.6 1697.8 L949.1 1698.6 L950.3 1681.1 L949.6 1656.2 L948.3 1640.4 L949.1 1662.0 L949.9 1640.9 L950.8 1662.0 L951.6 1642.1 L952.4 1662.5 L953.3 1642.6 L954.3 1662.5 L955.3 1643.2 L956.1 1662.0 L956.9 1643.2 L957.9 1643.7 L957.4 1664.5 L957.4 1684.5 L958.3 1699.4 L959.9 1696.1 L961.2 1684.5 L962.4 1697.8 L963.6 1712.7 L964.9 1704.4 L966.2 1681.1 L967.9 1661.2 L969.6 1649.5 L971.2 1649.5 L971.9 1667.8 L972.4 1684.5 L972.9 1694.4 L974.0 1681.1 L974.9 1669.5 L976.5 1677.8 L977.9 1689.4 L980.7 1693.6 L984.0 1691.1 L987.3 1684.5 L989.0 1674.5 L989.8 1661.2 L992.3 1651.2 L995.7 1644.6 L999.0 1639.6 L1001.5 1637.9 L1002.8 1647.9 L1003.1 1672.8 L1003.5 1697.8 L1004.5 1712.7 L1006.1 1706.1 L1006.8 1684.5 L1007.3 1667.8 L1009.8 1656.2 L1013.9 1649.5 L1018.1 1645.4 L1022.3 1643.7 L1026.4 1647.0 L1028.9 1649.5 L1030.6 1644.6 L1032.7 1646.2 L1033.1 1667.8 L1033.9 1646.2 L1036.1 1644.6 L1037.2 1656.2 L1037.7 1677.8 L1038.4 1697.8 L1039.7 1711.9 L1041.4 1704.4 L1043.9 1691.1 L1047.2 1677.8 L1050.0 1671.2 L1052.2 1676.1 L1053.8 1687.8 L1055.5 1697.8 L1057.2 1702.7 L1059.3 1696.1 L1061.3 1694.4 L1064.7 1701.1 L1067.6 1707.7 L1069.6 1710.2 L1071.6 1704.4 L1073.0 1696.1 L1076.3 1692.8 L1078.8 1690.3 L1080.0 1697.8 L1081.3 1701.9 L1081.3 1681.1 L1082.1 1669.5 L1085.4 1667.0 L1088.8 1669.5 L1091.3 1671.2 L1092.1 1662.8 L1094.6 1649.5 L1098.7 1643.7 L1102.9 1640.9 L1105.9 1639.6 L1107.1 1656.2 L1107.5 1684.5 L1108.2 1712.7 L1109.5 1704.4 L1110.4 1672.8 L1110.9 1637.1 L1112.0 1637.9 L1112.5 1664.5 L1112.5 1691.1 L1112.9 1712.7 L1116.2 1712.7 L1120.4 1711.1 L1123.7 1707.7 L1127.0 1709.1 L1128.2 1697.8 L1128.7 1672.8 L1129.8 1651.2 L1132.8 1650.4 L1135.8 1647.0 L1138.6 1645.4 L1142.0 1644.6 L1144.5 1640.9 L1147.5 1637.9 L1150.8 1639.6 L1152.8 1647.9 L1153.6 1667.8 L1153.6 1691.1 L1154.1 1709.4 L1155.3 1697.8 L1156.1 1677.8 L1157.8 1665.3 L1159.8 1669.5 L1161.9 1679.5 L1164.4 1676.1 L1165.7 1664.5 L1167.4 1662.0 L1168.6 1669.5 L1170.7 1681.1 L1173.6 1688.6 L1178.5 1696.1 L1182.7 1701.1 L1185.2 1704.4 L1186.4 1681.1 L1186.9 1656.2 L1187.4 1637.9 L1190.0 1637.1 L1193.3 1637.9 L1193.6 1664.5 L1193.6 1691.1 L1193.6 1714.4 L1194.6 1691.1 L1195.3 1664.5 L1195.8 1639.6 L1196.6 1662.8 L1198.0 1654.5 L1199.1 1646.2 L1201.3 1647.0 L1203.3 1655.4 L1206.6 1662.0 L1209.9 1665.8 L1212.4 1665.3 L1214.1 1659.5 L1215.2 1656.2 L1217.4 1660.3 L1219.1 1668.7 L1220.2 1669.5 L1221.6 1657.9 L1223.2 1652.9 L1225.7 1651.2 L1227.4 1652.9 L1227.9 1664.5 L1227.4 1681.1 L1228.2 1697.8 L1230.7 1706.9 L1233.2 1710.2 L1233.5 1681.1 L1232.9 1656.2 L1233.2 1637.9 L1234.5 1656.2 L1234.9 1681.1 L1235.7 1710.2 L1237.4 1710.2 L1240.7 1710.2 L1242.3 1701.1 L1243.2 1672.8 L1244.0 1647.9 L1245.2 1637.1 L1247.3 1638.7 L1250.7 1642.6 L1254.0 1642.9 L1255.1 1656.2 L1256.1 1681.1 L1256.8 1709.7 L1259.8 1708.6 L1264.8 1706.1 L1270.6 1703.1 L1275.6 1699.7 L1278.1 1699.4 L1281.4 1703.1 L1284.7 1700.2 L1289.7 1697.4 L1294.7 1699.1 L1300.0 1703.1 L1303.9 1699.7 L1308.0 1696.1 L1313.0 1695.3 L1318.8 1693.1 L1322.1 1694.4 L1326.3 1699.4 L1330.5 1704.4 L1333.8 1707.7 L1337.1 1704.4 L1340.4 1702.4 L1344.6 1701.9 L1347.1 1704.4 L1349.9 1708.6 L1350.9 1691.1 L1351.6 1664.5 L1352.6 1639.6 L1353.7 1638.7 L1354.6 1656.2 L1355.4 1671.2 L1358.7 1677.8 L1362.9 1682.8 L1367.9 1686.1 L1372.9 1685.3 L1377.8 1683.1 L1382.0 1682.5 L1385.3 1686.1 L1389.5 1689.4 L1391.5 1691.1 L1391.5 1701.1 L1392.0 1707.7 L1395.3 1704.4 L1399.5 1703.6 L1402.8 1701.1 L1404.1 1693.6 L1405.8 1692.8 L1408.6 1694.4 L1412.8 1693.1 L1416.9 1692.8 L1421.9 1695.3 L1427.7 1699.4 L1433.5 1702.7 L1438.5 1704.1" stroke-width="3.8" stroke-linejoin="round" stroke-linecap="round"/></g><g fill="#1c1a1a" font-family='&quot;Liberation Sans&quot;, sans-serif'><text x="264.3" y="871.3" font-size="25">0</text>
<text x="348.5" y="871.3" font-size="25">100</text>
<text x="448.7" y="871.3" font-size="25">200</text>
<text x="551.0" y="871.3" font-size="25">300</text>
<text x="653.0" y="871.3" font-size="25">400</text>
<text x="751.5" y="871.3" font-size="25">500</text>
<text x="310.1" y="918.3" font-size="25">50</text>
<text x="401.1" y="918.3" font-size="25">150</text>
<text x="501.4" y="918.3" font-size="25">250</text>
<text x="602.6" y="918.3" font-size="25">350</text>
<text x="701.5" y="918.3" font-size="25">450</text>
<text x="840.0" y="870.5" font-size="30" font-style="italic">f</text>
<text x="219.6" y="726.6" font-size="24.5">10</text>
<text x="245.6" y="717.6" font-size="18">2</text>
<text x="222.0" y="782.2" font-size="24.5">10</text>
<text x="247.7" y="774.0" font-size="18">0</text>
<text x="222.0" y="841.4" font-size="24.5">10</text>
<text x="248.4" y="832.2" font-size="18">-2</text>
<text x="211.4" y="650.5" font-size="36">Y1</text>
<text x="928.1" y="867.5" font-size="25">0</text>
<text x="1011.5" y="867.5" font-size="25">100</text>
<text x="1112.5" y="867.5" font-size="25">200</text>
<text x="1214.9" y="867.5" font-size="25">300</text>
<text x="1317.6" y="867.5" font-size="25">400</text>
<text x="1415.3" y="867.5" font-size="25">500</text>
<text x="974.0" y="913.3" font-size="25">50</text>
<text x="1063.8" y="913.3" font-size="25">150</text>
<text x="1164.9" y="913.3" font-size="25">250</text>
<text x="1266.0" y="913.3" font-size="25">350</text>
<text x="1365.3" y="913.3" font-size="25">450</text>
<text x="1500.0" y="871.0" font-size="30" font-style="italic">f</text>
<text x="899.3" y="722.7" font-size="25">5</text>
<text x="899.0" y="782.5" font-size="25">0</text>
<text x="894.9" y="840.8" font-size="25">-5</text>
<text x="875.3" y="653.0" font-size="36">Y2</text>
<text x="265.5" y="1174.4" font-size="25">0</text>
<text x="349.2" y="1174.4" font-size="25">100</text>
<text x="449.9" y="1174.4" font-size="25">200</text>
<text x="551.8" y="1174.4" font-size="25">300</text>
<text x="654.9" y="1174.4" font-size="25">400</text>
<text x="753.0" y="1174.4" font-size="25">500</text>
<text x="311.3" y="1220.2" font-size="25">50</text>
<text x="401.9" y="1220.2" font-size="25">150</text>
<text x="502.9" y="1220.2" font-size="25">250</text>
<text x="604.1" y="1220.2" font-size="25">350</text>
<text x="703.4" y="1220.2" font-size="25">450</text>
<text x="840.9" y="1170.0" font-size="30" font-style="italic">f</text>
<text x="220.3" y="1029.0" font-size="24.5">10</text>
<text x="248.9" y="1018.1" font-size="18">2</text>
<text x="223.3" y="1085.0" font-size="24.5">10</text>
<text x="251.7" y="1075.8" font-size="18">0</text>
<text x="223.3" y="1143.8" font-size="24.5">10</text>
<text x="251.7" y="1133.0" font-size="18">-2</text>
<text x="211.5" y="964.7" font-size="36">Y1</text>
<text x="929.3" y="1170.5" font-size="25">0</text>
<text x="1013.0" y="1170.5" font-size="25">100</text>
<text x="1113.7" y="1170.5" font-size="25">200</text>
<text x="1215.6" y="1170.5" font-size="25">300</text>
<text x="1318.7" y="1170.5" font-size="25">400</text>
<text x="1416.9" y="1170.5" font-size="25">500</text>
<text x="975.1" y="1216.4" font-size="25">50</text>
<text x="1065.0" y="1216.4" font-size="25">150</text>
<text x="1166.0" y="1216.4" font-size="25">250</text>
<text x="1268.0" y="1216.4" font-size="25">350</text>
<text x="1367.2" y="1216.4" font-size="25">450</text>
<text x="1504.0" y="1169.5" font-size="30" font-style="italic">f</text>
<text x="904.7" y="1026.8" font-size="25">5</text>
<text x="904.2" y="1087.2" font-size="25">0</text>
<text x="899.8" y="1144.9" font-size="25">-5</text>
<text x="876.4" y="965.8" font-size="36">Y2</text>
<text x="265.5" y="1482.0" font-size="25">0</text>
<text x="349.2" y="1482.0" font-size="25">100</text>
<text x="449.9" y="1482.0" font-size="25">200</text>
<text x="551.8" y="1482.0" font-size="25">300</text>
<text x="654.9" y="1482.0" font-size="25">400</text>
<text x="753.0" y="1482.0" font-size="25">500</text>
<text x="311.3" y="1528.6" font-size="25">50</text>
<text x="401.9" y="1528.6" font-size="25">150</text>
<text x="502.9" y="1528.6" font-size="25">250</text>
<text x="604.1" y="1528.6" font-size="25">350</text>
<text x="703.4" y="1528.6" font-size="25">450</text>
<text x="840.0" y="1482.0" font-size="30" font-style="italic">f</text>
<text x="221.7" y="1330.0" font-size="24.5">10</text>
<text x="250.6" y="1319.7" font-size="18">2</text>
<text x="224.7" y="1385.9" font-size="24.5">10</text>
<text x="252.7" y="1376.9" font-size="18">0</text>
<text x="224.7" y="1444.9" font-size="24.5">10</text>
<text x="252.7" y="1434.6" font-size="18">-2</text>
<text x="211.5" y="1260.9" font-size="36">Y1</text>
<text x="929.3" y="1479.0" font-size="25">0</text>
<text x="1013.0" y="1479.0" font-size="25">100</text>
<text x="1113.7" y="1479.0" font-size="25">200</text>
<text x="1215.6" y="1479.0" font-size="25">300</text>
<text x="1318.7" y="1479.0" font-size="25">400</text>
<text x="1416.9" y="1479.0" font-size="25">500</text>
<text x="975.1" y="1524.0" font-size="25">50</text>
<text x="1065.0" y="1524.0" font-size="25">150</text>
<text x="1166.0" y="1524.0" font-size="25">250</text>
<text x="1268.0" y="1524.0" font-size="25">350</text>
<text x="1367.2" y="1524.0" font-size="25">450</text>
<text x="1500.0" y="1482.0" font-size="30" font-style="italic">f</text>
<text x="906.9" y="1327.9" font-size="25">5</text>
<text x="906.7" y="1388.3" font-size="25">0</text>
<text x="902.5" y="1446.0" font-size="25">-5</text>
<text x="875.3" y="1261.8" font-size="36">Y2</text>
<text x="265.5" y="1774.3" font-size="25">0</text>
<text x="349.2" y="1774.3" font-size="25">100</text>
<text x="449.9" y="1774.3" font-size="25">200</text>
<text x="551.8" y="1774.3" font-size="25">300</text>
<text x="654.9" y="1774.3" font-size="25">400</text>
<text x="753.0" y="1774.3" font-size="25">500</text>
<text x="311.3" y="1821.0" font-size="25">50</text>
<text x="401.9" y="1821.0" font-size="25">150</text>
<text x="502.9" y="1821.0" font-size="25">250</text>
<text x="604.1" y="1821.0" font-size="25">350</text>
<text x="703.4" y="1821.0" font-size="25">450</text>
<text x="840.0" y="1771.0" font-size="30" font-style="italic">f</text>
<text x="220.3" y="1625.0" font-size="24.5">10</text>
<text x="248.9" y="1614.0" font-size="18">2</text>
<text x="223.3" y="1681.7" font-size="24.5">10</text>
<text x="251.7" y="1672.0" font-size="18">0</text>
<text x="223.3" y="1739.9" font-size="24.5">10</text>
<text x="251.7" y="1729.5" font-size="18">-2</text>
<text x="211.5" y="1557.9" font-size="36">Y1</text>
<text x="929.3" y="1771.3" font-size="25">0</text>
<text x="1013.0" y="1771.3" font-size="25">100</text>
<text x="1113.7" y="1771.3" font-size="25">200</text>
<text x="1215.6" y="1771.3" font-size="25">300</text>
<text x="1318.7" y="1771.3" font-size="25">400</text>
<text x="1416.9" y="1771.3" font-size="25">500</text>
<text x="975.1" y="1817.0" font-size="25">50</text>
<text x="1065.0" y="1817.0" font-size="25">150</text>
<text x="1166.0" y="1817.0" font-size="25">250</text>
<text x="1268.0" y="1817.0" font-size="25">350</text>
<text x="1367.2" y="1817.0" font-size="25">450</text>
<text x="1500.0" y="1770.0" font-size="30" font-style="italic">f</text>
<text x="901.5" y="1625.6" font-size="25">5</text>
<text x="901.2" y="1686.0" font-size="25">0</text>
<text x="897.1" y="1743.7" font-size="25">-5</text>
<text x="875.3" y="1559.7" font-size="36">Y2</text></g></svg>
<div class="abs" id="legend">Y1 — амплитуда, Н;  Y2 — фаза, рад; <i>f</i> — частота, Гц</div>
<div class="abs" id="cap">Рисунок А.5 — Графики амплитуды и фазы затормаживающих сил (сверху вниз) <i>f</i><sub>bl1,</sub> <i>f</i><sub>bl2,</sub> <i>f</i><sub>bl3</sub> и <i>f</i><sub>bl4</sub> (см. рисунки А.3<br>и А.4) с переменным разрешением по частоте</div>
<div class="abs" id="pg">16</div>
</div>
</body>
</html>
